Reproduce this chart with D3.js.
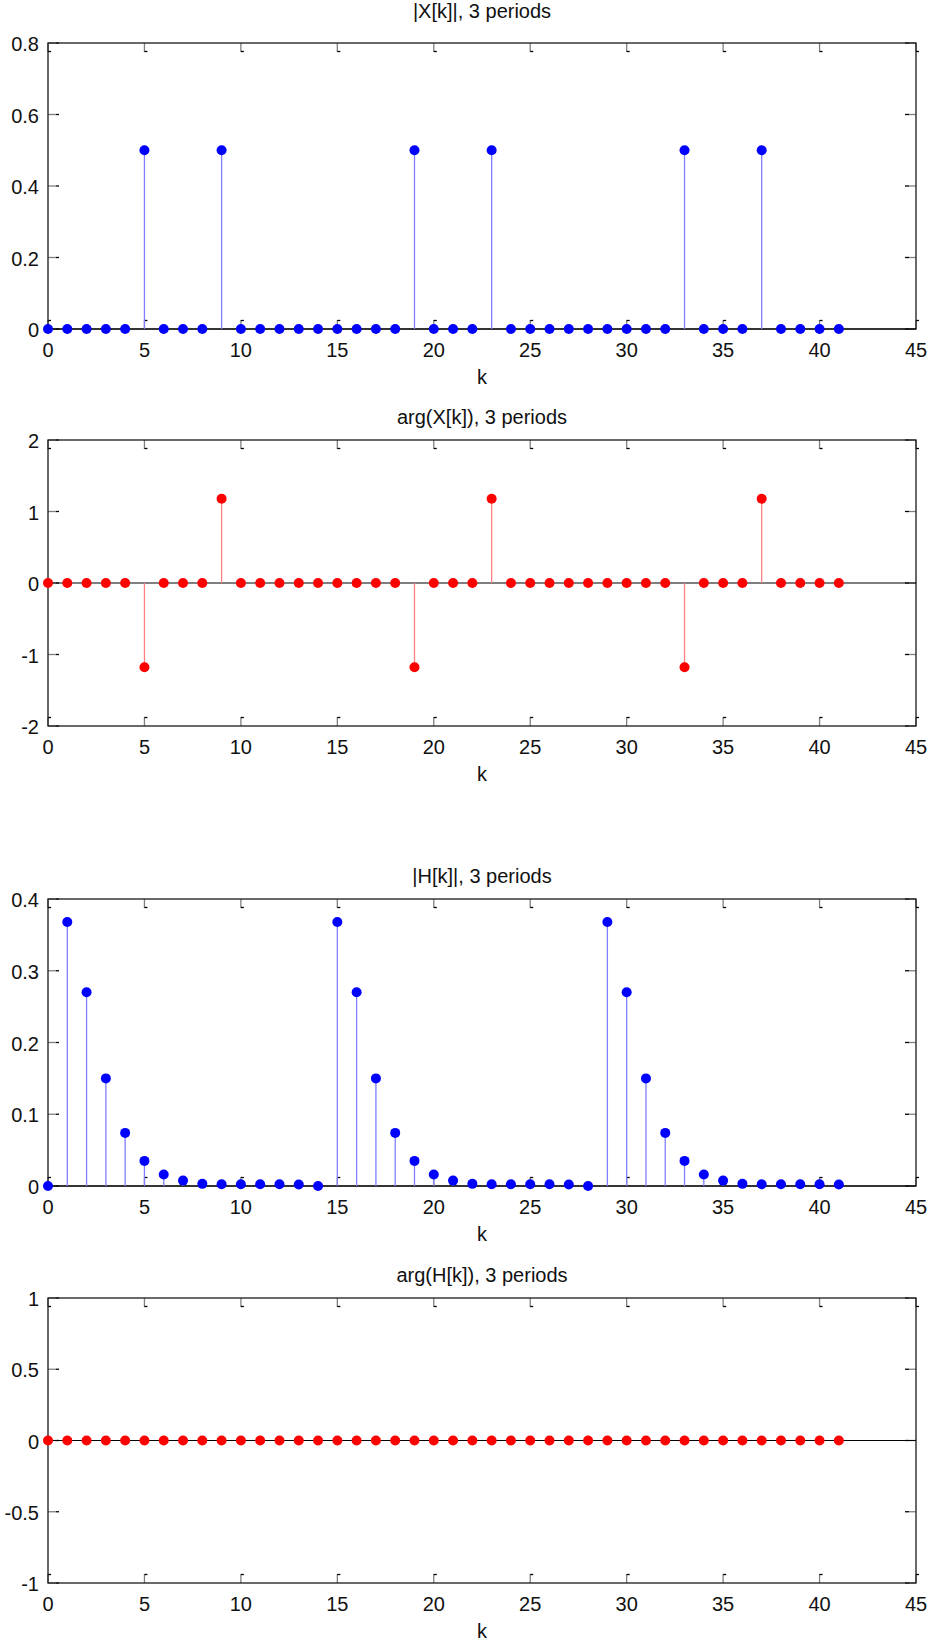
<!DOCTYPE html>
<html>
<head>
<meta charset="utf-8">
<script src="https://cdn.jsdelivr.net/npm/d3@7/dist/d3.min.js"></script>
<style>
  html, body { margin: 0; padding: 0; background: #fff; }
  svg { display: block; }
  text { font-family: "Liberation Sans", Arial, sans-serif; font-size: 20px; fill: #111; }
</style>
</head>
<body>
<script>
// Sample index k = 0..41 (three periods of 14 DFT bins)
const k = d3.range(0, 42);

// |X[k]|
const magX = [
  0, 0, 0, 0, 0, 0.5, 0, 0, 0, 0.5, 0, 0, 0, 0,
  0, 0, 0, 0, 0, 0.5, 0, 0, 0, 0.5, 0, 0, 0, 0,
  0, 0, 0, 0, 0, 0.5, 0, 0, 0, 0.5, 0, 0, 0, 0
];
// arg(X[k])
const argX = [
  0, 0, 0, 0, 0, -1.178, 0, 0, 0, 1.178, 0, 0, 0, 0,
  0, 0, 0, 0, 0, -1.178, 0, 0, 0, 1.178, 0, 0, 0, 0,
  0, 0, 0, 0, 0, -1.178, 0, 0, 0, 1.178, 0, 0, 0, 0
];
// |H[k]|
const magH = [
  0, 0.368, 0.270, 0.150, 0.074, 0.035, 0.016, 0.0075, 0.003, 0.0025, 0.0025, 0.0025, 0.0025, 0.002,
  0, 0.368, 0.270, 0.150, 0.074, 0.035, 0.016, 0.0075, 0.003, 0.0025, 0.0025, 0.0025, 0.0025, 0.002,
  0, 0.368, 0.270, 0.150, 0.074, 0.035, 0.016, 0.0075, 0.003, 0.0025, 0.0025, 0.0025, 0.0025, 0.002
];
// arg(H[k])
const argH = [
  0, 0, 0, 0, 0, 0, 0, 0, 0, 0, 0, 0, 0, 0,
  0, 0, 0, 0, 0, 0, 0, 0, 0, 0, 0, 0, 0, 0,
  0, 0, 0, 0, 0, 0, 0, 0, 0, 0, 0, 0, 0, 0
];

// Axis tick labels
const xTickLabels = ["0", "5", "10", "15", "20", "25", "30", "35", "40", "45"];
const yTicksMagX = ["0", "0.2", "0.4", "0.6", "0.8"];
const yTicksArgX = ["-2", "-1", "0", "1", "2"];
const yTicksMagH = ["0", "0.1", "0.2", "0.3", "0.4"];
const yTicksArgH = ["-1", "-0.5", "0", "0.5", "1"];

const titles = ["|X[k]|, 3 periods", "arg(X[k]), 3 periods", "|H[k]|, 3 periods", "arg(H[k]), 3 periods"];
const xLabel = "k";

const W = 930, H = 1643;
const svg = d3.select("body").append("svg").attr("width", W).attr("height", H);

const x = d3.scaleLinear().domain([0, 45]).range([48, 916]);

const panels = [
  { values: magX, yTicks: yTicksMagX, domain: [0, 0.8], top: 43,   bottom: 329,  color: "#0000ff", stem: "#7f7fff", title: titles[0], titleY: 18 },
  { values: argX, yTicks: yTicksArgX, domain: [-2, 2],  top: 440,  bottom: 726,  color: "#ff0000", stem: "#ff7f7f", title: titles[1], titleY: 424 },
  { values: magH, yTicks: yTicksMagH, domain: [0, 0.4], top: 899,  bottom: 1186, color: "#0000ff", stem: "#7f7fff", title: titles[2], titleY: 883 },
  { values: argH, yTicks: yTicksArgH, domain: [-1, 1],  top: 1298, bottom: 1583, color: "#ff0000", stem: "#ff7f7f", title: titles[3], titleY: 1282 }
];

panels.forEach(p => {
  const y = d3.scaleLinear().domain(p.domain).range([p.bottom, p.top]);
  const g = svg.append("g");
  const x0 = x.range()[0], x1 = x.range()[1];

  // Tick marks (inward), gray stem with a short dark end
  const tg = g.append("g");
  xTickLabels.forEach(t => {
    const xv = x(+t);
    // bottom
    tg.append("line").attr("x1", xv).attr("x2", xv).attr("y1", p.bottom).attr("y2", p.bottom - 9)
      .attr("stroke", "#808080").attr("stroke-width", 1.3);
    tg.append("line").attr("x1", xv).attr("x2", xv + 3).attr("y1", p.bottom - 8.5).attr("y2", p.bottom - 8.5)
      .attr("stroke", "#000").attr("stroke-width", 1.3);
    // top
    tg.append("line").attr("x1", xv).attr("x2", xv).attr("y1", p.top).attr("y2", p.top + 9)
      .attr("stroke", "#808080").attr("stroke-width", 1.3);
    tg.append("line").attr("x1", xv).attr("x2", xv + 3).attr("y1", p.top + 8.5).attr("y2", p.top + 8.5)
      .attr("stroke", "#000").attr("stroke-width", 1.3);
  });
  p.yTicks.forEach(t => {
    const yv = y(+t);
    tg.append("line").attr("x1", x0).attr("x2", x0 + 8).attr("y1", yv).attr("y2", yv)
      .attr("stroke", "#808080").attr("stroke-width", 1.3);
    tg.append("line").attr("x1", x0 + 8).attr("x2", x0 + 11).attr("y1", yv).attr("y2", yv)
      .attr("stroke", "#000").attr("stroke-width", 1.3);
    tg.append("line").attr("x1", x1).attr("x2", x1 - 7).attr("y1", yv).attr("y2", yv)
      .attr("stroke", "#808080").attr("stroke-width", 1.3);
    tg.append("line").attr("x1", x1 - 7).attr("x2", x1 - 11).attr("y1", yv).attr("y2", yv)
      .attr("stroke", "#000").attr("stroke-width", 1.3);
  });

  // Axes box
  g.append("rect").attr("x", x0).attr("y", p.top).attr("width", x1 - x0).attr("height", p.bottom - p.top)
    .attr("fill", "none").attr("stroke", "#1a1a1a").attr("stroke-width", 1.3);

  // Stem baseline at zero
  g.append("line").attr("x1", x0).attr("x2", x1).attr("y1", y(0)).attr("y2", y(0))
    .attr("stroke", "#000").attr("stroke-width", 1.2);

  // Tick labels
  g.selectAll("text.xt").data(xTickLabels).join("text").attr("class", "xt")
    .attr("x", d => x(+d)).attr("y", p.bottom + 28).attr("text-anchor", "middle").text(d => d);
  g.selectAll("text.yt").data(p.yTicks).join("text").attr("class", "yt")
    .attr("x", x0 - 9).attr("y", d => y(+d) + 8).attr("text-anchor", "end").text(d => d);

  // Title and x label
  g.append("text").attr("x", (x0 + x1) / 2).attr("y", p.titleY).attr("text-anchor", "middle").text(p.title);
  g.append("text").attr("x", (x0 + x1) / 2).attr("y", p.bottom + 55).attr("text-anchor", "middle").text(xLabel);

  // Stems
  g.selectAll("line.stem").data(k).join("line").attr("class", "stem")
    .attr("x1", d => x(d)).attr("x2", d => x(d))
    .attr("y1", y(0)).attr("y2", d => y(p.values[d]))
    .attr("stroke", p.stem).attr("stroke-width", 1.3);

  // Markers
  g.selectAll("circle.mk").data(k).join("circle").attr("class", "mk")
    .attr("cx", d => x(d)).attr("cy", d => y(p.values[d])).attr("r", 5)
    .attr("fill", p.color);
});
</script>
</body>
</html>
